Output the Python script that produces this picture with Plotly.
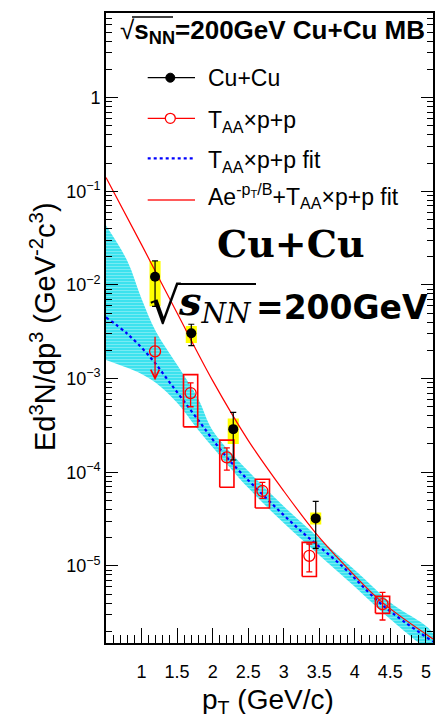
import math
import plotly.graph_objects as go

# ---------------- data ----------------
# Cu+Cu measured points
cu_pt = [1.19, 1.70, 2.29, 3.45]
cu_y = [1.22e-2, 3.05e-3, 2.88e-4, 3.21e-5]
cu_stat_hi = [1.80e-2, 3.80e-3, 4.35e-4, 4.88e-5]
cu_stat_lo = [5.9e-3, 2.25e-3, 1.35e-4, 1.54e-5]
cu_sys_hi = [1.80e-2, 3.63e-3, 3.75e-4, 3.72e-5]
cu_sys_lo = [5.9e-3, 2.40e-3, 2.00e-4, 2.77e-5]

# T_AA x p+p reference points
pp_pt = [1.69, 2.20, 2.70, 3.36, 4.39]
pp_y = [7.0e-4, 1.44e-4, 6.3e-5, 1.28e-5, 3.9e-6]
pp_stat_hi = [9.0e-4, 1.82e-4, 7.8e-5, 1.71e-5, 5.2e-6]
pp_stat_lo = [5.0e-4, 1.05e-4, 5.25e-5, 8.6e-6, 2.64e-6]
pp_sys_hi = [1.10e-3, 2.20e-4, 8.4e-5, 1.78e-5, 4.72e-6]
pp_sys_lo = [3.05e-4, 6.9e-5, 4.14e-5, 7.7e-6, 3.11e-6]

# T_AA x p+p upper-limit point
lim_pt = [1.19]
lim_y = [1.95e-3]
lim_top = [2.9e-3]
lim_tip = [9.6e-4]

# T_AA x p+p fit (blue dotted)
fit_pt = [0.5, 0.8, 1.12, 1.4, 1.78, 2.2, 2.71, 3.23, 3.83, 4.39, 5.1]
fit_y = [4.5e-3, 3.0e-3, 1.7e-3, 9.0e-4, 3.75e-4, 1.44e-4, 5.7e-5, 2.4e-5, 9.8e-6, 3.8e-6, 1.55e-6]

# fit uncertainty band
band_pt = [0.5, 0.8, 1.0, 1.2, 1.5, 1.8, 2.0, 2.5, 3.0, 3.5, 4.0, 4.5, 5.1]
band_hi = [4.3e-2, 1.8e-2, 7.1e-3, 3.2e-3, 1.4e-3, 6.0e-4, 2.79e-4, 1.03e-4, 4.33e-5, 1.97e-5, 9.0e-6, 4.07e-6, 1.9e-6]
band_lo = [1.58e-3, 1.3e-3, 1.12e-3, 9.0e-4, 5.5e-4, 2.8e-4, 1.85e-4, 6.8e-5, 2.86e-5, 1.30e-5, 5.97e-6, 2.69e-6, 1.26e-6]

# A e^{-pT/B} + T_AA x p+p fit (red)
tot_pt = [0.5, 1.0, 1.5, 2.0, 2.5, 3.0, 3.45, 3.83, 4.37, 5.1]
tot_y = [0.14, 2.69e-2, 5.0e-3, 9.5e-4, 2.19e-4, 6.3e-5, 2.24e-5, 1.07e-5, 4.17e-6, 1.66e-6]

x_ticks = [1, 1.5, 2, 2.5, 3, 3.5, 4, 4.5, 5]
x_ticktext = ["1", "1.5", "2", "2.5", "3", "3.5", "4", "4.5", "5"]
y_ticks = [1, 1e-1, 1e-2, 1e-3, 1e-4, 1e-5]
y_ticktext = ["1", "10<sup>\u22121</sup>", "10<sup>\u22122</sup>", "10<sup>\u22123</sup>",
              "10<sup>\u22124</sup>", "10<sup>\u22125</sup>"]

legend_labels = ["Cu+Cu", "T<sub>AA</sub>\u00d7p+p", "T<sub>AA</sub>\u00d7p+p fit",
                 "Ae<sup>-p<sub>T</sub>/B</sup>+T<sub>AA</sub>\u00d7p+p fit"]

# ---------------- layout helpers ----------------
FIG_W, FIG_H = 436, 714
L, R, T, B = 106, 433, 13, 643
W, H = R - L, B - T
SANS = "Liberation Sans, Arial, Helvetica, sans-serif"


def fx(px):
    return (px - L) / W


def fy(py):
    return (B - py) / H


def boxes(xc, lo, hi, half):
    xs, ys = [], []
    for x, a, b in zip(xc, lo, hi):
        xs += [x - half, x + half, x + half, x - half, x - half, None]
        ys += [a, a, b, b, a, None]
    return xs, ys


fig = go.Figure()

# uncertainty band
fig.add_trace(go.Scatter(
    x=band_pt + band_pt[::-1], y=band_hi + band_lo[::-1],
    mode="lines", fill="toself", line=dict(width=0, shape="spline"),
    fillcolor="rgb(70,228,240)",
    fillpattern=dict(shape="-", bgcolor="rgb(60,226,238)", fgcolor="rgba(255,255,255,0.8)",
                     size=3, solidity=0.25),
    showlegend=False, hoverinfo="skip"))

# yellow systematic boxes (Cu+Cu)
yx, yy = boxes(cu_pt, cu_sys_lo, cu_sys_hi, 0.078)
fig.add_trace(go.Scatter(x=yx, y=yy, mode="lines", fill="toself", fillcolor="#ffff00",
                         line=dict(width=0), showlegend=False, hoverinfo="skip"))

# fits
fig.add_trace(go.Scatter(x=fit_pt, y=fit_y, mode="lines",
                         line=dict(color="#0000ff", width=2.2, dash="dot", shape="spline"),
                         showlegend=False))
fig.add_trace(go.Scatter(x=tot_pt, y=tot_y, mode="lines",
                         line=dict(color="#ff0000", width=1.2, shape="spline"),
                         showlegend=False))

# red systematic boxes (pp)
rx, ry = boxes(pp_pt, pp_sys_lo, pp_sys_hi, 0.1)
fig.add_trace(go.Scatter(x=rx, y=ry, mode="lines", line=dict(color="#ff0000", width=1.6),
                         showlegend=False, hoverinfo="skip"))

# pp points
fig.add_trace(go.Scatter(
    x=pp_pt, y=pp_y, mode="markers",
    marker=dict(symbol="circle-open", size=11, color="#ff0000", line=dict(width=1.3)),
    error_y=dict(type="data", array=[h - v for h, v in zip(pp_stat_hi, pp_y)],
                 arrayminus=[v - l for v, l in zip(pp_y, pp_stat_lo)],
                 color="#ff0000", thickness=1.3, width=3),
    showlegend=False))
fig.add_trace(go.Scatter(
    x=lim_pt, y=lim_y, mode="markers",
    marker=dict(symbol="circle-open", size=11, color="#ff0000", line=dict(width=1.3)),
    showlegend=False))
for xp, top, tip in zip(lim_pt, lim_top, lim_tip):
    fig.add_annotation(x=xp, y=math.log10(tip), ax=xp, ay=math.log10(top),
                       xref="x", yref="y", axref="x", ayref="y", text="",
                       showarrow=True, arrowhead=5, arrowsize=1.3, arrowwidth=1.3,
                       arrowcolor="#ff0000")

# Cu+Cu points
fig.add_trace(go.Scatter(
    x=cu_pt, y=cu_y, mode="markers",
    marker=dict(symbol="circle", size=10, color="black"),
    error_y=dict(type="data", array=[h - v for h, v in zip(cu_stat_hi, cu_y)],
                 arrayminus=[v - l for v, l in zip(cu_y, cu_stat_lo)],
                 color="black", thickness=1.2, width=3),
    showlegend=False))

axis_common = dict(showline=True, linecolor="black", linewidth=1.6,
                   ticks="inside", tickcolor="black", tickwidth=1.3, showgrid=False,
                   zeroline=False, tickfont=dict(family=SANS, size=18, color="black"))

fig.update_layout(
    width=FIG_W, height=FIG_H,
    margin=dict(l=L, r=FIG_W - R, t=T, b=FIG_H - B, autoexpand=False),
    paper_bgcolor="white", plot_bgcolor="white",
    font=dict(family=SANS, color="black"),
    showlegend=False,
    xaxis=dict(range=[0.5, 5.1], tickmode="array", tickvals=x_ticks, ticktext=x_ticktext,
               ticklen=15, ticklabelstandoff=12, mirror=True,
               minor=dict(ticks="inside", tickmode="linear", tick0=0.5, dtick=0.1,
                          ticklen=8, tickcolor="black", tickwidth=1.1),
               **axis_common),
    yaxis=dict(type="log", range=[math.log10(1.5e-6), math.log10(8)],
               tickmode="array", tickvals=y_ticks, ticktext=y_ticktext, ticklen=12,
               mirror="allticks",
               minor=dict(ticks="inside", dtick="D1", ticklen=6, tickcolor="black",
                          tickwidth=1.1),
               **axis_common),
)

# ---------------- hand-made legend (ROOT style) ----------------
leg_y = [77.7, 118.3, 158.3, 200.0]
leg_x0, leg_x1, leg_mx, leg_tx = 147.7, 195.0, 170.3, 206.0
leg_line = [dict(color="black", width=1.2), dict(color="#ff0000", width=1.2),
            dict(color="#0000ff", width=2.2, dash="dot"), dict(color="#ff5a5a", width=2)]
for yy_, ln in zip(leg_y, leg_line):
    fig.add_shape(type="line", xref="paper", yref="paper", x0=fx(leg_x0), x1=fx(leg_x1),
                  y0=fy(yy_), y1=fy(yy_), line=ln)
fig.add_shape(type="circle", xref="paper", yref="paper",
              x0=fx(leg_mx - 4.5), x1=fx(leg_mx + 4.5),
              y0=fy(leg_y[0] + 4.5), y1=fy(leg_y[0] - 4.5),
              fillcolor="black", line=dict(color="black", width=1))
fig.add_shape(type="circle", xref="paper", yref="paper",
              x0=fx(leg_mx - 5), x1=fx(leg_mx + 5),
              y0=fy(leg_y[1] + 5), y1=fy(leg_y[1] - 5),
              fillcolor="white", line=dict(color="#ff0000", width=1.3))
leg_text_y = [77.7, 121.5, 161.5, 196.0]
for lab, ty in zip(legend_labels, leg_text_y):
    fig.add_annotation(x=fx(leg_tx), y=fy(ty), xref="paper", yref="paper", showarrow=False,
                       xanchor="left", yanchor="middle", text=lab,
                       font=dict(family=SANS, size=23, color="black"))

# axis titles
fig.add_annotation(x=fx(43), y=fy(327), xref="paper", yref="paper", showarrow=False,
                   textangle=-90, xanchor="center", yanchor="middle",
                   text="Ed<sup>3</sup>N/dp<sup>3</sup> (GeV<sup>-2</sup>c<sup>3</sup>)",
                   font=dict(family=SANS, size=29, color="black"))
fig.add_annotation(x=fx(268), y=fy(682), xref="paper", yref="paper", showarrow=False,
                   xanchor="center", yanchor="top",
                   text="p<sub>T</sub> (GeV/c)",
                   font=dict(family=SANS, size=28, color="black"))

# header
fig.add_annotation(x=fx(118), y=fy(31), xref="paper", yref="paper", showarrow=False,
                   xanchor="left", yanchor="middle",
                   text="\u221a<b>s<sub>NN</sub>=200GeV Cu+Cu MB</b>",
                   font=dict(family=SANS, size=26, color="black"))
fig.add_shape(type="line", xref="paper", yref="paper", x0=fx(132), x1=fx(173),
              y0=fy(17), y1=fy(17), line=dict(color="black", width=1.5))

# big labels
fig.add_annotation(x=fx(291), y=fy(243), xref="paper", yref="paper", showarrow=False,
                   xanchor="center", yanchor="middle", text="<b>Cu+Cu</b>",
                   font=dict(family="DejaVu Serif, serif", size=38, color="black"))
fig.add_annotation(x=fx(165), y=fy(306), xref="paper", yref="paper", showarrow=False,
                   xanchor="center", yanchor="middle", text="\u221a",
                   font=dict(family="DejaVu Sans", size=50, color="black"))
fig.add_annotation(x=fx(176), y=fy(303), xref="paper", yref="paper", showarrow=False,
                   xanchor="left", yanchor="middle",
                   text="<b><i>s</i></b><sub><i>NN</i></sub>",
                   font=dict(family="DejaVu Serif, serif", size=40, color="black"))
fig.add_annotation(x=fx(254), y=fy(307), xref="paper", yref="paper", showarrow=False,
                   xanchor="left", yanchor="middle", text="<b>=200GeV</b>",
                   font=dict(family="DejaVu Sans", size=33, color="black"))
fig.add_shape(type="line", xref="paper", yref="paper", x0=fx(177), x1=fx(256),
              y0=fy(284), y1=fy(284), line=dict(color="black", width=2.2))

fig.write_html("out.html")
